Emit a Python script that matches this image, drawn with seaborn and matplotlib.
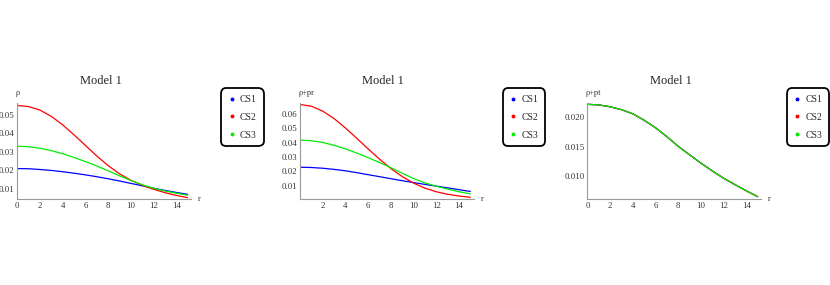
import numpy as np
import pandas as pd
import matplotlib
matplotlib.use("Agg")
import matplotlib.pyplot as plt
import seaborn as sns
from matplotlib.lines import Line2D
from matplotlib.ticker import MultipleLocator, FixedLocator, FormatStrFormatter

# values, r = 0..15
r = list(range(16))
models = ["CS1", "CS2", "CS3"]
colors = ["#0000ff", "#ff0000", "#00ee00"]

# panel 1: rho
rho_cs1 = [0.0208, 0.0207, 0.0203, 0.0198, 0.0191, 0.0183, 0.0174, 0.0164,
           0.0153, 0.0141, 0.0128, 0.0115, 0.0102, 0.0090, 0.0079, 0.0069]
rho_cs2 = [0.0549, 0.0543, 0.0524, 0.0490, 0.0444, 0.0390, 0.0333, 0.0276,
           0.0224, 0.0180, 0.0145, 0.0118, 0.0096, 0.0078, 0.0063, 0.0051]
rho_cs3 = [0.0329, 0.0326, 0.0318, 0.0305, 0.0288, 0.0268, 0.0246, 0.0222,
           0.0196, 0.0169, 0.0144, 0.0121, 0.0102, 0.0087, 0.0075, 0.0064]

# panel 2: rho + pr
rpr_cs1 = [0.0229, 0.0227, 0.0222, 0.0214, 0.0204, 0.0191, 0.0177, 0.0163,
           0.0149, 0.0135, 0.0122, 0.0109, 0.0097, 0.0085, 0.0072, 0.0060]
rpr_cs2 = [0.0667, 0.0655, 0.0621, 0.0569, 0.0503, 0.0431, 0.0357, 0.0286,
           0.0220, 0.0164, 0.0118, 0.0083, 0.0058, 0.0040, 0.0028, 0.0019]
rpr_cs3 = [0.0418, 0.0414, 0.0402, 0.0382, 0.0357, 0.0328, 0.0296, 0.0262,
           0.0226, 0.0187, 0.0150, 0.0120, 0.0096, 0.0076, 0.0058, 0.0043]

# panel 3: rho + pt (same curve for all three models)
rpt_all = [0.02222, 0.02212, 0.02180, 0.02130, 0.02060, 0.01950, 0.01822, 0.01670,
           0.01505, 0.01360, 0.01218, 0.01085, 0.00960, 0.00850, 0.00745, 0.00645]


def long_df(a, b, c):
    return pd.DataFrame({
        "r": r * 3,
        "value": a + b + c,
        "model": ["CS1"] * 16 + ["CS2"] * 16 + ["CS3"] * 16,
    })


sns.set_style("white")
plt.rcParams["font.family"] = ["Liberation Serif", "DejaVu Serif"]

fig = plt.figure(figsize=(8.3, 2.85), dpi=100)
W, H = 830, 285

panels = [
    dict(df=long_df(rho_cs1, rho_cs2, rho_cs3), ylab="ρ", ylim=(0.0042, 0.0565),
         major=0.01, fmt="%.2f", xt=[0, 2, 4, 6, 8, 10, 12, 14], left=17.3, leg=221.0),
    dict(df=long_df(rpr_cs1, rpr_cs2, rpr_cs3), ylab="ρ+pr", ylim=(0.0005, 0.0681),
         major=0.01, fmt="%.2f", xt=[2, 4, 6, 8, 10, 12, 14], left=300.0, leg=502.5),
    dict(df=long_df(rpt_all, rpt_all, rpt_all), ylab="ρ+pt", ylim=(0.0060, 0.02253),
         major=0.005, fmt="%.3f", xt=[0, 2, 4, 6, 8, 10, 12, 14], left=587.4, leg=786.5),
]

ax_bottom, ax_top = 199.3, 102.5
for p in panels:
    ax = fig.add_axes([p["left"] / W, 1 - ax_bottom / H, 173.7 / W, (ax_bottom - ax_top) / H])
    sns.lineplot(data=p["df"], x="r", y="value", hue="model", hue_order=models,
                 palette=colors, legend=False, linewidth=0.9, ax=ax)
    ax.set_xlim(0, 15.3)
    ax.set_ylim(*p["ylim"])
    ax.set_xlabel("")
    ax.set_ylabel("")
    for s in ["top", "right"]:
        ax.spines[s].set_visible(False)
    for s in ["left", "bottom"]:
        ax.spines[s].set_color("#999999")
        ax.spines[s].set_linewidth(0.8)
    ax.xaxis.set_major_locator(FixedLocator(p["xt"]))
    ax.xaxis.set_minor_locator(MultipleLocator(0.5))
    ax.yaxis.set_major_locator(MultipleLocator(p["major"]))
    ax.yaxis.set_minor_locator(MultipleLocator(p["major"] / 5))
    ax.yaxis.set_major_formatter(FormatStrFormatter(p["fmt"]))
    ax.tick_params(which="both", direction="in", colors="#999999",
                   labelcolor="#333333", labelsize=6.3, pad=2)
    ax.tick_params(which="major", length=3.5, width=0.6)
    ax.tick_params(which="minor", length=2, width=0.5)
    ax.set_title("Model 1", fontsize=9, pad=13, x=0.48)
    ax.text(-0.01, 1.10, p["ylab"], transform=ax.transAxes, ha="left", va="center",
            fontsize=6, color="#333333")
    ax.text(1.05, 0.0, "r", transform=ax.transAxes, ha="center", va="center",
            fontsize=6, color="#333333")

    handles = [Line2D([], [], ls="none", marker="o", ms=1.8, color=c) for c in colors]
    leg = fig.legend(handles, models, loc="upper left",
                     bbox_to_anchor=(p["leg"] / W, 1 - 88.3 / H),
                     bbox_transform=fig.transFigure, frameon=True, fancybox=True,
                     fontsize=7, handlelength=0.8, handletextpad=0.45,
                     borderpad=0.7, labelspacing=0.9, borderaxespad=0)
    frame = leg.get_frame()
    frame.set_edgecolor("black")
    frame.set_linewidth(1.3)
    frame.set_alpha(1)
    frame.set_boxstyle("round,pad=0,rounding_size=0.55")

fig.savefig("out.png", dpi=100)
